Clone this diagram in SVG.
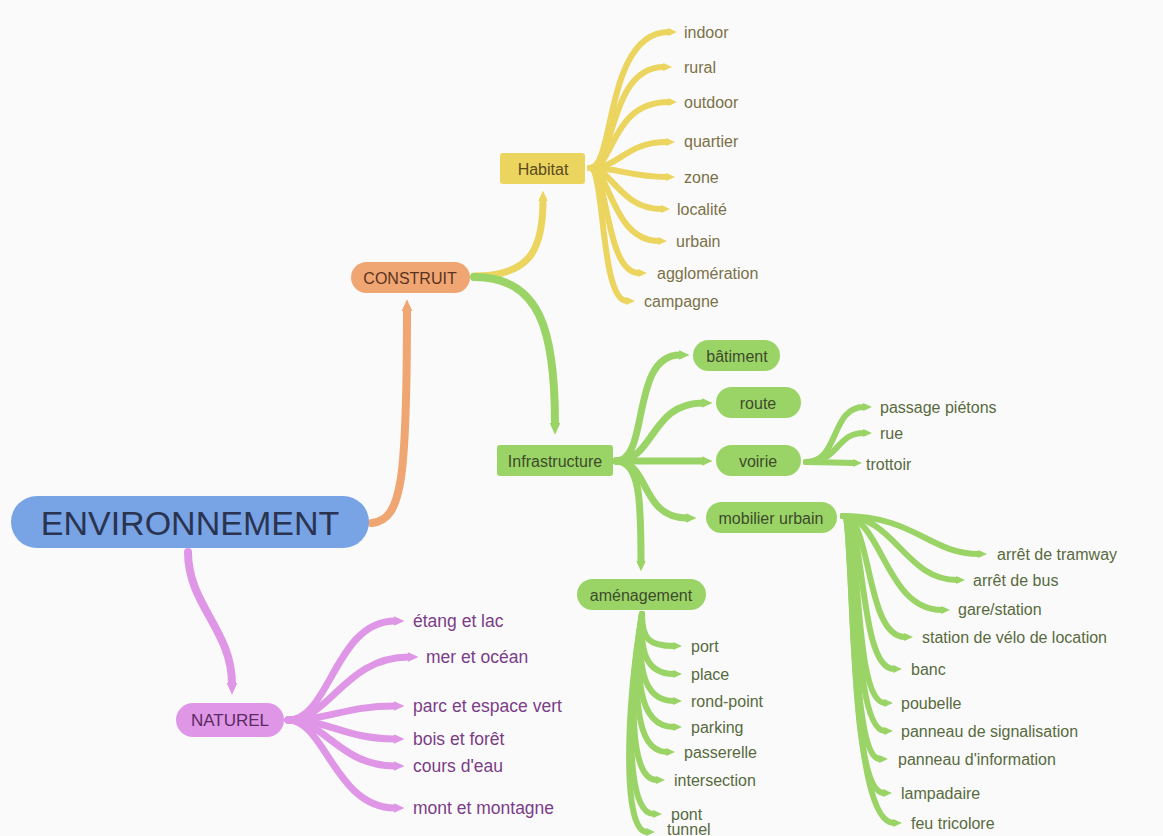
<svg xmlns="http://www.w3.org/2000/svg" width="1163" height="836" viewBox="0 0 1163 836">
<style>
text{font-family:"Liberation Sans",Arial,sans-serif;dominant-baseline:central}
.lf{font-size:16px}
.y{fill:#7a7148}
.g{fill:#586a3e}
.p{fill:#7b3d88;font-size:17.5px}
.nt{font-size:16px;text-anchor:middle}
.cy{fill:none;stroke:#ebd55e;stroke-linecap:round}
.cg{fill:none;stroke:#9bd466;stroke-linecap:round}
.co{fill:none;stroke:#f0a673;stroke-linecap:round}
.cp{fill:none;stroke:#df96e6;stroke-linecap:round}
.leaf{stroke-width:6}
.sub{stroke-width:7}
.main{stroke-width:8}
</style>
<defs>
<marker id="ay" viewBox="0 0 10 10" refX="1" refY="5" markerWidth="1.5" markerHeight="1.5" orient="auto"><path d="M0,0.5 L10,5 L0,9.5 z" fill="#ebd55e"/></marker>
<marker id="ag" viewBox="0 0 10 10" refX="1" refY="5" markerWidth="1.5" markerHeight="1.5" orient="auto"><path d="M0,0.5 L10,5 L0,9.5 z" fill="#9bd466"/></marker>
<marker id="ao" viewBox="0 0 10 10" refX="1" refY="5" markerWidth="1.5" markerHeight="1.5" orient="auto"><path d="M0,0.5 L10,5 L0,9.5 z" fill="#f0a673"/></marker>
<marker id="ap" viewBox="0 0 10 10" refX="1" refY="5" markerWidth="1.5" markerHeight="1.5" orient="auto"><path d="M0,0.5 L10,5 L0,9.5 z" fill="#df96e6"/></marker>
</defs>
<rect width="1163" height="836" fill="#fafafa"/>
<g id="connectors">
<path class="co main" marker-end="url(#ao)" d="M372,523 C402,520 407,480 407,310"/>
<path class="cp main" marker-end="url(#ap)" d="M188,552 C188,605 232,630 232,684"/>
<path class="cy sub" marker-end="url(#ay)" d="M474,276 C530,276 543,250 543,200"/>
<path class="cg main" marker-end="url(#ag)" d="M474,277 C540,277 555,330 555,424"/>
<g marker-end="url(#ay)">
<path class="cy leaf" d="M590,168 C615,168 605,32 669,32"/>
<path class="cy leaf" d="M590,168 C615,168 608,67 664,67"/>
<path class="cy leaf" d="M590,168 C615,168 610,102 669,102"/>
<path class="cy leaf" d="M590,168 C620,168 625,142 667,142"/>
<path class="cy leaf" d="M590,168 C620,168 630,177 667,177"/>
<path class="cy leaf" d="M590,168 C612,168 620,209 662,209"/>
<path class="cy leaf" d="M590,168 C610,168 612,241 659,241"/>
<path class="cy leaf" d="M590,168 C608,168 605,273 639,273"/>
<path class="cy leaf" d="M590,168 C605,168 600,301 627,301"/>
</g>
<g marker-end="url(#ag)">
<path class="cg sub" d="M616,461 C650,461 630,355 680,355"/>
<path class="cg sub" d="M616,461 C655,461 650,403 703,403"/>
<path class="cg sub" d="M616,461 L703,461"/>
<path class="cg sub" d="M616,461 C650,461 640,518 687,518"/>
<path class="cg sub" d="M616,461 C640,461 641,500 641,562"/>
<path class="cg leaf" d="M806,462 C840,462 830,407 864,407"/>
<path class="cg leaf" d="M806,462 C840,462 835,433 864,433"/>
<path class="cg leaf" d="M806,462 C830,462 835,463 854,463"/>
<path class="cg leaf" d="M843,516 C915,516 930,554 979,554"/>
<path class="cg leaf" d="M843,516 C895,516 905,580 957,580"/>
<path class="cg leaf" d="M843,516 C882,516 885,610 942,610"/>
<path class="cg leaf" d="M843,516 C872,516 865,637 905,637"/>
<path class="cg leaf" d="M843,516 C866,516 858,669 894,669"/>
<path class="cg leaf" d="M843,516 C862,516 852,703 885,703"/>
<path class="cg leaf" d="M843,516 C860,516 850,731 885,731"/>
<path class="cg leaf" d="M843,516 C858,516 848,759 880,759"/>
<path class="cg leaf" d="M843,516 C856,516 846,793 884,793"/>
<path class="cg leaf" d="M843,516 C856,516 846,823 894,823"/>
<path class="cg leaf" d="M642,614 C642,640 650,646 674,646"/>
<path class="cg leaf" d="M642,614 C640,650 645,674 674,674"/>
<path class="cg leaf" d="M642,614 C638,660 640,701 674,701"/>
<path class="cg leaf" d="M642,614 C636,670 636,727 674,727"/>
<path class="cg leaf" d="M642,614 C634,680 632,752 667,752"/>
<path class="cg leaf" d="M642,614 C630,690 628,780 657,780"/>
<path class="cg leaf" d="M642,614 C628,700 624,814 654,814"/>
<path class="cg leaf" d="M642,614 C626,710 622,832 647,832"/>
</g>
<g marker-end="url(#ap)">
<path class="cp sub" d="M288,720 C330,720 335,621 395,621"/>
<path class="cp sub" d="M288,720 C330,720 345,657 409,657"/>
<path class="cp sub" d="M288,720 C330,720 345,706 395,706"/>
<path class="cp sub" d="M288,720 C330,720 345,739 395,739"/>
<path class="cp sub" d="M288,720 C325,720 340,766 395,766"/>
<path class="cp sub" d="M288,720 C325,720 335,808 395,808"/>
</g>
</g>
<g id="environnement"><rect x="11" y="496" width="358" height="52" rx="26" fill="#78a3e5"/><text x="190" y="523" font-size="34" text-anchor="middle" fill="#2a3450">ENVIRONNEMENT</text></g>
<g id="construit"><rect x="351" y="262" width="119" height="31" rx="15.5" fill="#f0a673"/><text class="nt" x="410" y="278" fill="#5a3320">CONSTRUIT</text></g>
<g id="habitat"><rect x="500" y="153" width="85" height="31" rx="3" fill="#ebd55e"/><text class="nt" x="543" y="169" fill="#5a4a22">Habitat</text></g>
<g id="infrastructure"><rect x="497" y="445" width="116" height="31" rx="3" fill="#9bd466"/><text class="nt" x="555" y="461" fill="#3d4b2c">Infrastructure</text></g>
<g id="batiment"><rect x="693" y="340" width="87" height="31" rx="15.5" fill="#9bd466"/><text class="nt" x="737" y="356" fill="#3d4b2c">bâtiment</text></g>
<g id="route"><rect x="716" y="387" width="85" height="31" rx="15.5" fill="#9bd466"/><text class="nt" x="758" y="403" fill="#3d4b2c">route</text></g>
<g id="voirie"><rect x="716" y="445" width="85" height="31" rx="15.5" fill="#9bd466"/><text class="nt" x="758" y="461" fill="#3d4b2c">voirie</text></g>
<g id="mobilier"><rect x="706" y="502" width="131" height="31" rx="15.5" fill="#9bd466"/><text class="nt" x="771" y="518" fill="#3d4b2c">mobilier urbain</text></g>
<g id="amenagement"><rect x="577" y="579" width="129" height="31" rx="15.5" fill="#9bd466"/><text class="nt" x="641" y="595" fill="#3d4b2c">aménagement</text></g>
<g id="naturel"><rect x="176" y="703" width="108" height="34" rx="17" fill="#df96e6"/><text x="230" y="720" font-size="17" text-anchor="middle" fill="#5a2a62">NATUREL</text></g>
<g id="habitat-leaves">
<text x="684" y="32" class="lf y">indoor</text>
<text x="684" y="67" class="lf y">rural</text>
<text x="684" y="102" class="lf y">outdoor</text>
<text x="684" y="141" class="lf y">quartier</text>
<text x="684" y="177" class="lf y">zone</text>
<text x="677" y="209" class="lf y">localité</text>
<text x="676" y="241" class="lf y">urbain</text>
<text x="657" y="273" class="lf y">agglomération</text>
<text x="644" y="301" class="lf y">campagne</text>
</g>
<g id="voirie-leaves">
<text x="880" y="407" class="lf g">passage piétons</text>
<text x="880" y="433" class="lf g">rue</text>
<text x="866" y="464" class="lf g">trottoir</text>
</g>
<g id="mobilier-leaves">
<text x="997" y="554" class="lf g">arrêt de tramway</text>
<text x="973" y="580" class="lf g">arrêt de bus</text>
<text x="958" y="609" class="lf g">gare/station</text>
<text x="922" y="637" class="lf g">station de vélo de location</text>
<text x="911" y="669" class="lf g">banc</text>
<text x="901" y="703" class="lf g">poubelle</text>
<text x="901" y="731" class="lf g">panneau de signalisation</text>
<text x="898" y="759" class="lf g">panneau d'information</text>
<text x="901" y="793" class="lf g">lampadaire</text>
<text x="911" y="823" class="lf g">feu tricolore</text>
</g>
<g id="amenagement-leaves">
<text x="691" y="646" class="lf g">port</text>
<text x="691" y="674" class="lf g">place</text>
<text x="691" y="701" class="lf g">rond-point</text>
<text x="691" y="727" class="lf g">parking</text>
<text x="684" y="752" class="lf g">passerelle</text>
<text x="674" y="780" class="lf g">intersection</text>
<text x="671" y="814" class="lf g">pont</text>
<text x="667" y="829" class="lf g">tunnel</text>
</g>
<g id="naturel-leaves">
<text x="413" y="621" class="p">étang et lac</text>
<text x="426" y="657" class="p">mer et océan</text>
<text x="413" y="706" class="p">parc et espace vert</text>
<text x="413" y="739" class="p">bois et forêt</text>
<text x="413" y="766" class="p">cours d'eau</text>
<text x="413" y="808" class="p">mont et montagne</text>
</g>
</svg>
